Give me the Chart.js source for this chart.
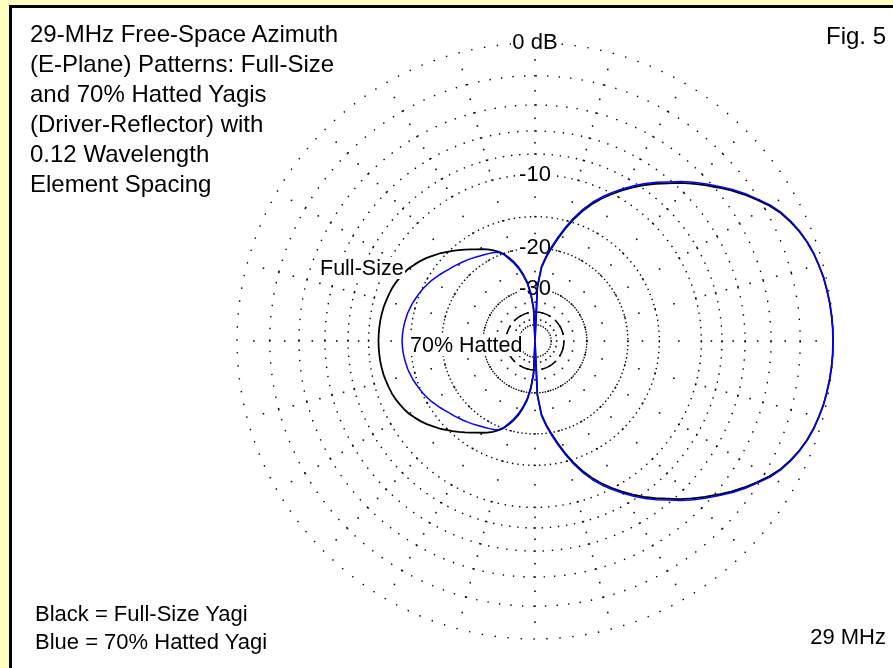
<!DOCTYPE html>
<html>
<head>
<meta charset="utf-8">
<title>29-MHz Free-Space Azimuth Patterns</title>
<script src="https://cdn.jsdelivr.net/npm/chart.js"></script>
<style>
  html, body { margin: 0; padding: 0; }
  body { width: 893px; height: 668px; background: #FFFFC0; position: relative; overflow: hidden;
         font-family: "Liberation Sans", Arial, sans-serif; color: #000; }
  #frame { position: absolute; left: 9px; top: 5px; right: 0; bottom: 0; background: #fff;
           border-left: 3px solid #000; border-top: 3px solid #000; }
  #pattern { position: absolute; left: 0; top: 0; }
  .txt { position: absolute; white-space: nowrap; }
  #title { left: 30px; top: 19px; font-size: 24px; line-height: 30px; }
  #fig { right: 7px; top: 21px; font-size: 24px; line-height: 30px; }
  #legend { left: 35px; top: 600px; font-size: 22px; line-height: 27.5px; }
  #freq { right: 7px; top: 623px; font-size: 22px; line-height: 27.5px; }
  .lobe { font-size: 21.5px; line-height: 22px; background: #fff; padding: 0 1px; }
  #lblFull { left: 319px; top: 257px; }
  #lblHat { left: 409px; top: 334px; }
</style>
</head>
<body>
<div id="frame"></div>
<canvas id="pattern" width="893" height="668"></canvas>
<div class="txt" id="title">29-MHz Free-Space Azimuth<br>(E-Plane) Patterns: Full-Size<br>and 70% Hatted Yagis<br>(Driver-Reflector) with<br>0.12 Wavelength<br>Element Spacing</div>
<div class="txt" id="fig">Fig. 5</div>
<div class="txt" id="legend">Black = Full-Size Yagi<br>Blue = 70% Hatted Yagi</div>
<div class="txt" id="freq">29 MHz</div>
<div class="txt lobe" id="lblFull">Full-Size</div>
<div class="txt lobe" id="lblHat">70% Hatted</div>
<script>
// Azimuth step of the pattern tables (degrees, counter-clockwise from boresight).
const AZ_STEP = 2.5;
const azimuthsDeg = Array.from({ length: 144 }, (_, i) => i * AZ_STEP);

// Relative gain in dB at each azimuth, 0 .. 357.5 deg.
const fullSizeDb = [
  0, 0, -0.02, -0.05, -0.1, -0.15, -0.25, -0.35, -0.5, -0.7, -0.95, -1.25,
  -1.65, -2.15, -2.65, -3.2, -3.8, -4.4, -5.0, -5.65, -6.35, -7.0, -7.7, -8.45,
  -9.25, -10.1, -11.0, -12.0, -13.2, -14.6, -16.2, -18.0, -19.8, -21.7, -24.0, -29.5,
  -100, -38, -31.5, -27.8, -25.5, -23.6, -22.2, -21.0, -20.0, -19.3, -18.7, -18.2,
  -17.75, -17.3, -16.8, -16.3, -15.8, -15.3, -14.8, -14.3, -13.85, -13.4, -13.0, -12.65,
  -12.3, -12.05, -11.85, -11.65, -11.5, -11.4, -11.3, -11.2, -11.15, -11.1, -11.08, -11.06,
  -11.05, -11.06, -11.08, -11.1, -11.15, -11.2, -11.3, -11.4, -11.5, -11.65, -11.85, -12.05,
  -12.3, -12.65, -13.0, -13.4, -13.85, -14.3, -14.8, -15.3, -15.8, -16.3, -16.8, -17.3,
  -17.75, -18.2, -18.7, -19.3, -20.0, -21.0, -22.2, -23.6, -25.5, -27.8, -31.5, -38,
  -100, -29.5, -24.0, -21.7, -19.8, -18.0, -16.2, -14.6, -13.2, -12.0, -11.0, -10.1,
  -9.25, -8.45, -7.7, -7.0, -6.35, -5.65, -5.0, -4.4, -3.8, -3.2, -2.65, -2.15,
  -1.65, -1.25, -0.95, -0.7, -0.5, -0.35, -0.25, -0.15, -0.1, -0.05, -0.02, 0
];

const hattedDb = [
  0, 0, -0.02, -0.05, -0.1, -0.15, -0.24, -0.34, -0.48, -0.67, -0.91, -1.2,
  -1.58, -2.07, -2.56, -3.1, -3.68, -4.27, -4.86, -5.5, -6.2, -6.84, -7.53, -8.27,
  -9.05, -9.88, -10.77, -11.76, -12.95, -14.33, -15.92, -17.7, -19.5, -21.4, -23.7, -29.2,
  -100, -38.5, -32, -28.2, -25.9, -24.0, -22.5, -21.3, -20.1, -19.45, -19.15, -18.95,
  -18.75, -18.55, -18.3, -18.05, -17.8, -17.55, -17.3, -17.05, -16.8, -16.5, -16.2, -15.9,
  -15.6, -15.35, -15.1, -14.9, -14.7, -14.5, -14.35, -14.2, -14.1, -14.0, -13.93, -13.88,
  -13.85, -13.88, -13.93, -14.0, -14.1, -14.2, -14.35, -14.5, -14.7, -14.9, -15.1, -15.35,
  -15.6, -15.9, -16.2, -16.5, -16.8, -17.05, -17.3, -17.55, -17.8, -18.05, -18.3, -18.55,
  -18.75, -18.95, -19.15, -19.45, -20.1, -21.3, -22.5, -24.0, -25.9, -28.2, -32, -38.5,
  -100, -29.2, -23.7, -21.4, -19.5, -17.7, -15.92, -14.33, -12.95, -11.76, -10.77, -9.88,
  -9.05, -8.27, -7.53, -6.84, -6.2, -5.5, -4.86, -4.27, -3.68, -3.1, -2.56, -2.07,
  -1.58, -1.2, -0.91, -0.67, -0.48, -0.34, -0.24, -0.15, -0.1, -0.05, -0.02, 0
];

// Grid rings and their labels (dB).
const ringLevelsDb = [-50, -40, -30, -20, -15, -10, -8, -6, -4, -2, 0];
const ringLabels = { '0': '0 dB', '-10': '-10', '-20': '-20', '-30': '-30' };
// Dotted marks along every radial spoke (dB).
const spokeLevelsDb = [-1, -2, -3, -4, -5, -6, -7, -8, -9, -10, -12.5, -15, -17.5, -20, -25, -30, -35, -40, -45];
const SPOKE_STEP_DEG = 15;

// ARRL-style log radius: every 2 dB shrinks the radius by 0.89.
const ARRL_BASE = 0.89;
const RadialBase = Chart.RadialLinearScale || Chart.registry.getScale('radialLinear');
class ArrlLogRadialScale extends RadialBase {
  static id = 'arrlLogRadial';
  static defaults = {};
  getDistanceFromCenterForValue(value) {
    if (value === null || value === undefined || isNaN(value)) return NaN;
    return this.drawingArea * Math.pow(ARRL_BASE, -value / 2);
  }
  getValueForDistanceFromCenter(distance) {
    return -2 * Math.log(distance / this.drawingArea) / Math.log(ARRL_BASE);
  }
}
Chart.register(ArrlLogRadialScale);

// The radar runs clockwise from the top; azimuth runs counter-clockwise from the right.
const spokeCount = azimuthsDeg.length;
const topIndex = Math.round(90 / AZ_STEP);
const radarOrder = Array.from({ length: spokeCount }, (_, i) => (topIndex - i + spokeCount) % spokeCount);
const radarLabels = radarOrder.map(k => azimuthsDeg[k] + '°');
const toRadar = arr => radarOrder.map(k => arr[k]);

const spokeDots = {
  id: 'spokeDots',
  beforeDraw(chart) {
    const s = chart.scales.r;
    const ctx = chart.ctx;
    const step = Math.round(SPOKE_STEP_DEG / AZ_STEP);
    ctx.save();
    ctx.fillStyle = '#111';
    for (let i = 0; i < spokeCount; i += step) {
      for (const lvl of spokeLevelsDb) {
        const p = s.getPointPosition(i, s.getDistanceFromCenterForValue(lvl));
        ctx.fillRect(p.x - 0.8, p.y - 0.8, 1.6, 1.6);
      }
    }
    ctx.restore();
  }
};

new Chart(document.getElementById('pattern'), {
  type: 'radar',
  data: {
    labels: radarLabels,
    datasets: [
      { label: 'Full-Size Yagi', data: toRadar(fullSizeDb), borderColor: '#000000', borderWidth: 1.8, order: 1 },
      { label: '70% Hatted Yagi', data: toRadar(hattedDb), borderColor: '#0000FF', borderWidth: 1.5, order: 0 }
    ]
  },
  options: {
    responsive: false,
    devicePixelRatio: 1,
    animation: false,
    events: [],
    layout: { padding: { left: 226, top: 32, right: 48, bottom: 17 } },
    elements: {
      point: { radius: 0 },
      line: { tension: 0, fill: false, borderJoinStyle: 'round' }
    },
    plugins: { legend: { display: false }, tooltip: { enabled: false } },
    scales: {
      r: {
        type: 'arrlLogRadial',
        min: -100,
        max: 0,
        startAngle: 0,
        afterBuildTicks: scale => { scale.ticks = ringLevelsDb.map(v => ({ value: v })); },
        angleLines: { display: false },
        pointLabels: { display: false },
        grid: {
          circular: true,
          color: '#000',
          lineWidth: c => (c.tick && c.tick.value === -40 ? 1.6 : 1.4)
        },
        border: {
          dash: c => {
            const v = c.tick ? c.tick.value : 0;
            const r = c.scale.getDistanceFromCenterForValue(v);
            if (v === -40) {
              const seg = 2 * Math.PI * r / 8;
              return [seg * 0.72, seg * 0.28];
            }
            const period = 2 * Math.PI * r / 144;
            return [1.4, Math.max(period - 1.4, 1.3)];
          }
        },
        ticks: {
          display: true,
          color: '#000',
          font: { family: '"Liberation Sans", Arial, sans-serif', size: 22 },
          callback: v => ringLabels[String(v)] || '',
          showLabelBackdrop: c => !!(c.tick && c.tick.label),
          backdropColor: '#fff',
          backdropPadding: { x: 1, y: 0 }
        }
      }
    }
  },
  plugins: [spokeDots]
});
</script>
</body>
</html>
